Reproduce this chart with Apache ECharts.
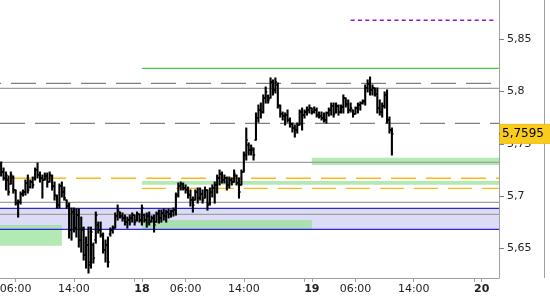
<!DOCTYPE html>
<html><head><meta charset="utf-8">
<script src="https://cdn.jsdelivr.net/npm/echarts@6/dist/echarts.min.js"></script>
<style>html,body{margin:0;padding:0;background:#fff}#c{width:550px;height:300px}</style>
</head><body><div id="c"></div>
<script>
// x axis unit: 20-minute trading slots counted from day 17 00:00 (session break 22:20-23:00)
const firstSlot = 12; // first bar: 17th 04:00
const opens = [5.7297,5.7230,5.7173,5.7153,5.7115,5.7182,5.7058,5.6933,5.6943,5.7019,
5.7039,5.7125,5.7086,5.7134,5.7173,5.7249,5.7201,5.7173,5.7153,5.7192,
5.7134,5.7192,5.7096,5.7000,5.6914,5.7096,5.7039,5.6962,5.6905,5.6675,
5.6847,5.6694,5.6818,5.6579,5.6675,5.6436,5.6531,5.6369,5.6531,5.6579,
5.6723,5.6675,5.6627,5.6484,5.6531,5.6637,5.6675,5.6694,5.6809,5.6847,
5.6809,5.6790,5.6751,5.6770,5.6790,5.6818,5.6770,5.6828,5.6770,5.6818,
5.6770,5.6809,5.6761,5.6790,5.6751,5.6828,5.6790,5.6838,5.6809,5.6847,
5.6828,5.6857,5.6866,5.7010,5.7096,5.7115,5.7077,5.7058,5.7010,5.6962,
5.6962,5.7039,5.6981,5.7019,5.6981,5.7058,5.6933,5.7039,5.7077,5.7106,
5.7173,5.7211,5.7153,5.7173,5.7106,5.7153,5.7134,5.7192,5.7125,5.7106,
5.7230,5.7393,5.7488,5.7441,5.7441,5.7536,5.7747,5.7823,5.7804,5.7938,
5.7957,5.7938,5.8091,5.8015,5.8063,5.7862,5.7785,5.7766,5.7775,5.7728,
5.7689,5.7651,5.7632,5.7680,5.7804,5.7775,5.7804,5.7823,5.7842,5.7804,
5.7823,5.7775,5.7766,5.7747,5.7728,5.7795,5.7823,5.7862,5.7804,5.7862,
5.7804,5.7852,5.7938,5.7881,5.7823,5.7823,5.7785,5.7842,5.7871,5.7890,
5.7909,5.8034,5.8072,5.8015,5.8034,5.7976,5.7842,5.7804,5.7862,5.7967,
5.7728,5.7632];
const highs = [5.7326,5.7268,5.7230,5.7192,5.7230,5.7192,5.7058,5.6962,5.7039,5.7058,
5.7153,5.7201,5.7153,5.7182,5.7268,5.7316,5.7230,5.7201,5.7220,5.7220,
5.7230,5.7201,5.7134,5.7010,5.7115,5.7134,5.7086,5.6962,5.6933,5.6885,
5.6885,5.6876,5.6876,5.6799,5.6703,5.6608,5.6703,5.6703,5.6550,5.6847,
5.6751,5.6751,5.6646,5.6579,5.6608,5.6694,5.6713,5.6838,5.6914,5.6847,
5.6838,5.6818,5.6799,5.6818,5.6838,5.6818,5.6847,5.6828,5.6914,5.6828,
5.6838,5.6847,5.6809,5.6818,5.6847,5.6866,5.6866,5.6876,5.6866,5.6876,
5.6866,5.6885,5.7029,5.7125,5.7134,5.7125,5.7106,5.7086,5.7058,5.6991,
5.7058,5.7077,5.7077,5.7058,5.7086,5.7058,5.7077,5.7106,5.7134,5.7201,
5.7249,5.7230,5.7201,5.7182,5.7182,5.7173,5.7249,5.7201,5.7173,5.7249,
5.7421,5.7651,5.7508,5.7488,5.7460,5.7795,5.7871,5.7890,5.7967,5.8043,
5.7967,5.8130,5.8111,5.8130,5.8082,5.7871,5.7804,5.7795,5.7823,5.7747,
5.7699,5.7680,5.7699,5.7823,5.7842,5.7823,5.7852,5.7871,5.7842,5.7852,
5.7842,5.7804,5.7804,5.7795,5.7804,5.7842,5.7890,5.7890,5.7890,5.7871,
5.7871,5.7967,5.7938,5.7919,5.7890,5.7823,5.7852,5.7890,5.7900,5.7919,
5.8063,5.8111,5.8139,5.8063,5.8034,5.8034,5.7919,5.7890,5.7996,5.8015,
5.7756,5.7651];
const lows = [5.7192,5.7153,5.7058,5.7010,5.7115,5.7029,5.6914,5.6799,5.6924,5.7000,
5.7010,5.7029,5.7077,5.7077,5.7153,5.7173,5.7134,5.6981,5.7153,5.7086,
5.7134,5.7058,5.6962,5.6885,5.6885,5.6991,5.6962,5.6885,5.6598,5.6579,
5.6656,5.6608,5.6512,5.6464,5.6388,5.6311,5.6264,5.6311,5.6359,5.6550,
5.6646,5.6608,5.6455,5.6369,5.6321,5.6617,5.6646,5.6694,5.6770,5.6790,
5.6761,5.6723,5.6694,5.6723,5.6751,5.6723,5.6761,5.6751,5.6723,5.6751,
5.6703,5.6723,5.6751,5.6656,5.6751,5.6742,5.6751,5.6770,5.6751,5.6790,
5.6799,5.6809,5.6818,5.6991,5.7058,5.7058,5.7029,5.6981,5.6905,5.6847,
5.6962,5.6933,5.6962,5.6933,5.6981,5.6866,5.6914,5.6991,5.6933,5.7029,
5.7106,5.7125,5.7125,5.7058,5.7077,5.7106,5.7134,5.7106,5.6981,5.7106,
5.7230,5.7345,5.7393,5.7393,5.7345,5.7536,5.7708,5.7747,5.7795,5.7890,
5.7890,5.7938,5.7967,5.7986,5.7842,5.7756,5.7728,5.7680,5.7708,5.7660,
5.7613,5.7565,5.7603,5.7680,5.7632,5.7747,5.7775,5.7795,5.7785,5.7795,
5.7756,5.7747,5.7728,5.7708,5.7699,5.7766,5.7775,5.7756,5.7795,5.7775,
5.7795,5.7795,5.7852,5.7795,5.7804,5.7756,5.7785,5.7795,5.7823,5.7881,
5.7871,5.7996,5.7967,5.7967,5.7957,5.7795,5.7775,5.7756,5.7842,5.7699,
5.7603,5.7393];
const closes = [5.7230,5.7173,5.7201,5.7039,5.7201,5.7058,5.6933,5.6943,5.7019,5.7039,
5.7125,5.7058,5.7134,5.7106,5.7249,5.7201,5.7173,5.7153,5.7192,5.7134,
5.7201,5.7096,5.7010,5.6914,5.7096,5.7039,5.6981,5.6905,5.6675,5.6847,
5.6694,5.6818,5.6579,5.6694,5.6436,5.6531,5.6340,5.6656,5.6407,5.6818,
5.6675,5.6627,5.6484,5.6531,5.6369,5.6675,5.6694,5.6809,5.6866,5.6809,
5.6790,5.6751,5.6770,5.6790,5.6818,5.6751,5.6828,5.6770,5.6885,5.6770,
5.6809,5.6751,5.6790,5.6723,5.6828,5.6790,5.6838,5.6809,5.6847,5.6828,
5.6857,5.6866,5.7010,5.7096,5.7115,5.7077,5.7058,5.7010,5.6962,5.6914,
5.7039,5.6981,5.7019,5.6962,5.7058,5.6914,5.7039,5.7077,5.7106,5.7173,
5.7211,5.7153,5.7173,5.7106,5.7153,5.7134,5.7211,5.7125,5.7039,5.7230,
5.7393,5.7536,5.7441,5.7460,5.7393,5.7747,5.7823,5.7804,5.7938,5.7996,
5.7919,5.8091,5.8015,5.8091,5.7871,5.7785,5.7766,5.7775,5.7728,5.7689,
5.7651,5.7632,5.7680,5.7804,5.7775,5.7804,5.7823,5.7842,5.7804,5.7823,
5.7775,5.7766,5.7747,5.7728,5.7795,5.7823,5.7862,5.7785,5.7862,5.7804,
5.7852,5.7938,5.7881,5.7823,5.7842,5.7785,5.7842,5.7871,5.7890,5.7909,
5.8034,5.8072,5.8015,5.8034,5.7976,5.7842,5.7804,5.7862,5.7967,5.7728,
5.7632,5.7595];

const tickSlots = [18, 42, 70, 88, 112, 140, 158, 182, 210];
const tickLabels = ['06:00','14:00','18','06:00','14:00','19','06:00','14:00','20'];
const sessionStartSlots = [67, 137, 207];
const yTicks = [5.65, 5.70, 5.75, 5.80, 5.85];
const xMin = 11.53, xMax = 217.13, yMin = 5.6216, yMax = 5.8876;

// horizontal levels
const graySolidLevels = [5.8031, 5.7323, 5.6940, 5.6825];
const grayDashLevels = [5.8079, 5.7696];
const blueLevels = [5.6883, 5.6682];
const yellowLevel = 5.7170;
const yellowLevel2 = 5.7074, yellowLevel2Start = 70;
const greenLevel = 5.8222, greenLevelStart = 70;
const purpleLevel = 5.8682, purpleStart = 156, purpleEnd = 216.2;
const lavenderBand = [xMin, xMax, 5.6682, 5.6883];
const greenBands = [
  [xMin, 37, 5.6525, 5.6723],
  [70, 140, 5.6684, 5.6771],
  [70, xMax, 5.7108, 5.7144],
  [140, xMax, 5.7297, 5.7367]
];
const lastPrice = closes[closes.length - 1];

const ohlc = opens.map((o, i) => [firstSlot + i, o, highs[i], lows[i], closes[i]]);

function hline(v, x1, x2, style, z) {
  return {type: 'line', data: [[x1, v], [x2, v]], showSymbol: false, symbol: 'none',
    lineStyle: style, z: z || 2, silent: true, animation: false};
}
function bandItem(p, api, fill) {
  const a = api.coord([api.value(0), api.value(3)]);
  const b = api.coord([api.value(1), api.value(2)]);
  return {type: 'rect', shape: {x: a[0], y: a[1], width: b[0] - a[0], height: b[1] - a[1]},
    style: {fill: fill}};
}
const series = [];
series.push({
  type: 'custom', z: 1, silent: true, animation: false, clip: true,
  data: [lavenderBand],
  renderItem: (p, api) => bandItem(p, api, '#dcdcf6')
});
series.push({
  type: 'custom', z: 1.5, silent: true, animation: false, clip: true,
  data: greenBands,
  renderItem: (p, api) => bandItem(p, api, 'rgba(150,225,150,0.72)')
});
graySolidLevels.forEach(v => series.push(hline(v, xMin, xMax, {color: '#a0a0a0', width: 1.2})));
series.push(hline(grayDashLevels[0], xMin, xMax, {color: '#808080', width: 1.3, type: [25, 10], dashOffset: 24}));
series.push(hline(grayDashLevels[1], xMin, xMax, {color: '#808080', width: 1.3, type: [25, 10], dashOffset: 0}));
blueLevels.forEach(v => series.push(hline(v, xMin, xMax, {color: '#2a2ad0', width: 1.2})));
series.push(hline(yellowLevel, xMin, xMax, {color: '#fbb81a', width: 1.4, type: [25, 10], dashOffset: 29}));
series.push(hline(yellowLevel2, yellowLevel2Start, xMax, {color: '#fbb81a', width: 1.4, type: [24, 10]}));
series.push(hline(greenLevel, greenLevelStart, xMax, {color: '#44cc44', width: 1.4}));
series.push(hline(purpleLevel, purpleStart, purpleEnd, {color: '#9a10d0', width: 1.4, type: [4, 3.3]}));

series.push({
  type: 'custom', z: 5, silent: true, animation: false, clip: true,
  data: ohlc,
  encode: {x: 0, y: [1, 2, 3, 4]},
  renderItem: (p, api) => {
    const x = api.value(0);
    const o = api.coord([x, api.value(1)]);
    const h = api.coord([x, api.value(2)]);
    const l = api.coord([x, api.value(3)]);
    const c = api.coord([x, api.value(4)]);
    return {type: 'group', children: [
      {type: 'line', shape: {x1: h[0], y1: h[1] - 0.5, x2: l[0], y2: l[1] + 0.5}, style: {stroke: '#000', lineWidth: 2.1}},
      {type: 'line', shape: {x1: o[0] - 1.6, y1: o[1], x2: o[0], y2: o[1]}, style: {stroke: '#000', lineWidth: 1.6}},
      {type: 'line', shape: {x1: c[0], y1: c[1], x2: c[0] + 1.6, y2: c[1]}, style: {stroke: '#000', lineWidth: 1.6}}
    ]};
  }
});

// current price marker outside the plot
series.push({
  type: 'line', z: 10, silent: true, animation: false, clip: false,
  data: [[xMax, lastPrice], [xMax + 2.4, lastPrice]], showSymbol: false, symbol: 'none',
  lineStyle: {color: '#000', width: 1},
  endLabel: {
    show: true, distance: 0,
    formatter: () => String(lastPrice).replace('.', ','),
    backgroundColor: '#f9cb1c', borderColor: '#e8b000', borderWidth: 0.5,
    color: '#000', fontFamily: 'DejaVu Sans', fontSize: 12,
    padding: [4, 8, 3, 2]
  }
});

const chart = echarts.init(document.getElementById('c'), null, {renderer: 'canvas'});
chart.setOption({
  animation: false,
  backgroundColor: '#fff',
  grid: {left: 0, right: 51, top: 0, bottom: 22, containLabel: false, outerBoundsMode: 'none'},
  xAxis: {
    type: 'value', min: xMin, max: xMax,
    splitLine: {show: false},
    axisLine: {show: true, lineStyle: {color: '#a0a0a0', width: 1}},
    axisTick: {show: true, length: 4, lineStyle: {color: '#a0a0a0'},
      customValues: tickSlots.concat(sessionStartSlots)},
    axisLabel: {
      customValues: tickSlots, margin: 6, hideOverlap: false,
      color: '#222', fontFamily: 'DejaVu Sans', fontSize: 11,
      formatter: (v) => {
        const i = tickSlots.indexOf(Math.round(v));
        if (i < 0) return '';
        const t = tickLabels[i];
        return t.indexOf(':') >= 0 ? t : '{b|' + t + '}';
      },
      rich: {b: {fontWeight: 'bold', fontFamily: 'DejaVu Sans', fontSize: 11, color: '#222'}}
    }
  },
  yAxis: {
    type: 'value', position: 'right', min: yMin, max: yMax, scale: true,
    splitLine: {show: false},
    axisLine: {show: true, lineStyle: {color: '#a0a0a0', width: 1}},
    axisTick: {show: true, length: 5, lineStyle: {color: '#808080'}, customValues: yTicks},
    axisLabel: {
      customValues: yTicks, margin: 8,
      color: '#222', fontFamily: 'DejaVu Sans', fontSize: 11,
      formatter: (v) => String(Math.round(v * 100) / 100).replace('.', ',')
    }
  },
  graphic: [{type: 'line', shape: {x1: 544.5, y1: 0, x2: 544.5, y2: 278}, style: {stroke: '#a0a0a0', lineWidth: 1}, silent: true}],
  series: series
});
</script></body></html>
